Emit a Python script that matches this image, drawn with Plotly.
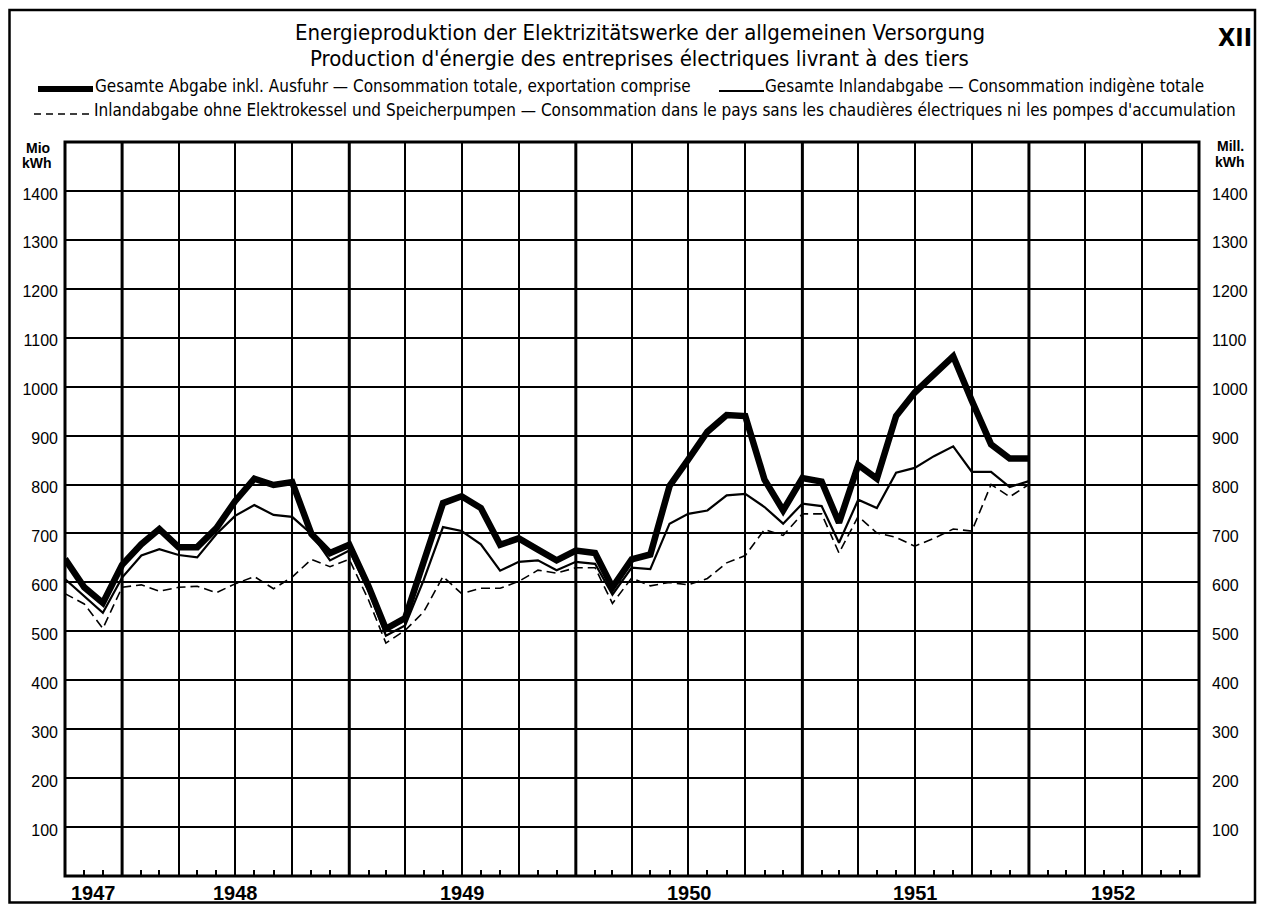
import pandas as pd
import plotly.graph_objects as go

# ---------------- data (monthly values, Mio kWh) ----------------
months = pd.period_range("1947-09", "1951-12", freq="M")

total_incl_export = [648, 590, 558, 636, 678, 709, 672, 672, 711, 766, 812, 799, 805,
                     699, 660, 677, 592, 505, 527, 640, 762, 776, 752, 677, 690, 667,
                     645, 665, 660, 590, 647, 657, 797, 851, 908, 942, 940, 810, 747,
                     813, 806, 722, 840, 812, 940, 988, 1025, 1062, 971, 882, 853, 853]

domestic_total = [607, 571, 538, 610, 655, 668, 656, 651, 699, 736, 758, 738, 734,
                  699, 645, 665, 583, 491, 512, 605, 713, 705, 678, 624, 642, 645,
                  625, 642, 638, 575, 630, 627, 720, 740, 747, 778, 781, 754, 720,
                  761, 756, 681, 769, 752, 824, 834, 858, 878, 826, 826, 795, 807]

domestic_without_boilers = [577, 556, 506, 590, 595, 582, 590, 592, 579, 597, 612, 587, 611,
                            647, 632, 647, 564, 476, 502, 540, 612, 577, 588, 588, 602, 625,
                            619, 630, 630, 557, 609, 593, 600, 595, 608, 640, 655, 708, 696,
                            740, 740, 660, 735, 701, 692, 674, 690, 709, 705, 800, 775, 800]

y_ticks = [100, 200, 300, 400, 500, 600, 700, 800, 900, 1000, 1100, 1200, 1300, 1400]
years = [1947, 1948, 1949, 1950, 1951, 1952]
x_start, x_end = "1947-10-01", "1952-10-01"

title_de = "Energieproduktion der Elektrizitätswerke der allgemeinen Versorgung"
title_fr = "Production d'énergie des entreprises électriques livrant à des tiers"
leg1 = "Gesamte Abgabe inkl. Ausfuhr — Consommation totale, exportation comprise"
leg2 = "Gesamte Inlandabgabe — Consommation indigène totale"
leg3 = ("Inlandabgabe ohne Elektrokessel und Speicherpumpen — Consommation dans le pays "
        "sans les chaudières électriques ni les pompes d'accumulation")

# ---------------- layout geometry (page pixels; body has an 8px margin) ----------------
OFF = 8
W, H = 1253, 896
PL, PR, PT, PB = 65, 1199, 142, 876          # plot area on the page
FONT = "Liberation Sans Narrow, Arial Narrow, DejaVu Sans Condensed, Liberation Sans, Arial"
NUMFONT = "Liberation Sans, Arial"


def px(p):
    return (p - PL) / (PR - PL)


def py(p):
    return (PB - p) / (PB - PT)


x_dates = (months + 1).to_timestamp()  # plotted at the end of each month

fig = go.Figure()
fig.add_trace(go.Scatter(x=x_dates, y=domestic_without_boilers, mode="lines",
                         line=dict(color="black", width=1.6, dash="9px,5px"),
                         hoverinfo="skip", showlegend=False))
fig.add_trace(go.Scatter(x=x_dates, y=domestic_total, mode="lines",
                         line=dict(color="black", width=2.2),
                         hoverinfo="skip", showlegend=False))
fig.add_trace(go.Scatter(x=x_dates, y=total_incl_export, mode="lines",
                         line=dict(color="black", width=6.5),
                         hoverinfo="skip", showlegend=False))
# invisible trace to carry the right-hand axis
fig.add_trace(go.Scatter(x=x_dates, y=total_incl_export, mode="lines", yaxis="y2",
                         line=dict(color="rgba(0,0,0,0)", width=0),
                         hoverinfo="skip", showlegend=False))

axis_common = dict(range=[0, 1500], tickvals=y_ticks, ticktext=[str(v) for v in y_ticks],
                   showline=False, zeroline=False, ticks="",
                   tickfont=dict(family=NUMFONT, size=16, color="black"),
                   ticklabelshift=3)

fig.update_layout(
    width=W, height=H,
    margin=dict(l=PL - OFF, r=W - (PR - OFF), t=PT - OFF, b=H - (PB - OFF), pad=0),
    paper_bgcolor="white", plot_bgcolor="white",
    showlegend=False,
    xaxis=dict(type="date", range=[x_start, x_end], tick0="1947-10-01", dtick="M3",
               showgrid=True, gridcolor="black", gridwidth=1.5,
               showticklabels=False, ticks="", zeroline=False, showline=False,
               minor=dict(dtick="M1", tick0="1947-10-01", ticks="inside", ticklen=6,
                          tickwidth=1.5, tickcolor="black", showgrid=False)),
    yaxis=dict(showgrid=True, gridcolor="black", gridwidth=1.5, side="left",
               ticklabelstandoff=6, **axis_common),
    yaxis2=dict(overlaying="y", side="right", showgrid=False, ticklabelstandoff=12,
                **axis_common),
)

shapes = []
# plot frame
shapes.append(dict(type="rect", xref="paper", yref="paper", x0=0, x1=1, y0=0, y1=1,
                   line=dict(color="black", width=3), layer="above"))
# thick year boundaries
for yr in years[1:]:
    shapes.append(dict(type="line", xref="x", yref="paper", x0=f"{yr}-01-01", x1=f"{yr}-01-01",
                       y0=0, y1=1, line=dict(color="black", width=3), layer="below"))
# outer frame of the page
shapes.append(dict(type="rect", xref="paper", yref="paper", x0=px(9.5), x1=px(1255),
                   y0=py(902.5), y1=py(10), line=dict(color="black", width=2.5)))
# legend samples
shapes.append(dict(type="line", xref="paper", yref="paper", x0=px(38), x1=px(93),
                   y0=py(89), y1=py(89), line=dict(color="black", width=6)))
shapes.append(dict(type="line", xref="paper", yref="paper", x0=px(719), x1=px(764),
                   y0=py(91), y1=py(91), line=dict(color="black", width=2)))
shapes.append(dict(type="line", xref="paper", yref="paper", x0=px(34), x1=px(92),
                   y0=py(114), y1=py(114), line=dict(color="black", width=1.5, dash="7px,5px")))
fig.update_layout(shapes=shapes)

ann = []


def text(x, y, s, size, anchor="center", family=FONT, bold=False):
    ann.append(dict(x=px(x), y=py(y), xref="paper", yref="paper", text=(f"<b>{s}</b>" if bold else s),
                    showarrow=False, xanchor=anchor, yanchor="middle", borderpad=0,
                    font=dict(family=family, size=size, color="black")))


text(640, 33, title_de, 22)
text(639, 58.5, title_fr, 22)
text(1235, 38, "XII", 25, bold=True)
text(94, 86, leg1, 17, anchor="left")
text(764, 86, leg2, 17, anchor="left")
text(93, 110, leg3, 17, anchor="left")
text(38, 148, "Mio", 14, family=NUMFONT, bold=True)
text(37, 163, "kWh", 14, family=NUMFONT, bold=True)
text(1230, 146, "Mill.", 14, family=NUMFONT, bold=True)
text(1230, 162, "kWh", 14, family=NUMFONT, bold=True)
fig.update_layout(annotations=ann)

# year labels under the axis, centred on the visible part of each year
lo, hi = pd.Timestamp(x_start), pd.Timestamp(x_end)
for yr in years:
    a = max(pd.Timestamp(f"{yr}-01-01"), lo)
    b = min(pd.Timestamp(f"{yr + 1}-01-01"), hi)
    mid = a + (b - a) / 2
    fig.add_annotation(x=mid, y=py(893), xref="x", yref="paper", text=f"<b>{yr}</b>",
                       showarrow=False, xanchor="center", yanchor="middle",
                       font=dict(family=NUMFONT, size=20, color="black"))

fig.write_html("out.html")
